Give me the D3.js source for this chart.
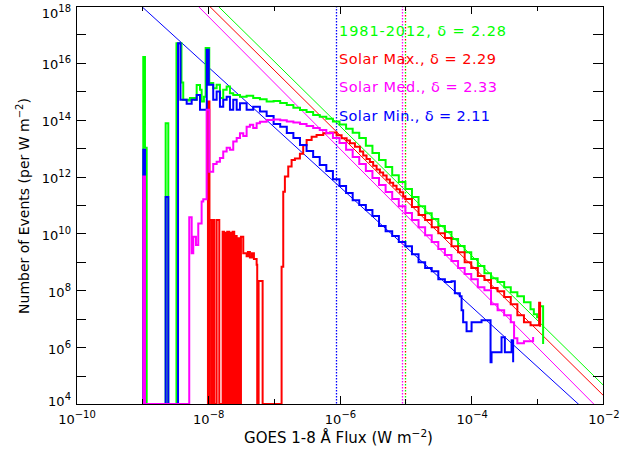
<!DOCTYPE html>
<html><head><meta charset="utf-8">
<script src="https://cdn.jsdelivr.net/npm/d3@7"></script>
<style>
body{margin:0;background:#fff}
svg{display:block}
text{font-family:"DejaVu Sans",sans-serif}
</style>
</head><body>
<svg id="chart" width="631" height="453"></svg>
<script>
// ---------------- DATA (log10 values) ----------------
const seriesNames = ["1981-2012", "Solar Max.", "Solar Med.", "Solar Min."];
const seriesColors = ["#00ff00", "#ff0000", "#ff00ff", "#0000ff"];
const fitDelta = [2.28, 2.29, 2.33, 2.11];
const fitLogAmp = [0.113, -0.267, -0.987, -1.011];   // log10 N at F = 1 W m^-2
const thresholdLogF = [-5.0, -5.0, -5.049, -6.055];  // dotted vertical lines

const xMajorExp = [-10, -8, -6, -4, -2];
const xMinorExp = [-9, -7, -5, -3];
const yMajorExp = [4, 6, 8, 10, 12, 14, 16, 18];
const yMinorExp = [5, 7, 9, 11, 13, 15, 17];

// step histograms: bin left edges (log10 flux) and log10 counts (4 = empty)
const greenLogF = [-8.979,-8.953,-8.927,-8.639,-8.599,-8.475,-8.399,-8.372,-8.296,-8.270,-8.194,-8.168,-8.118,-8.093,-8.058,-8.032,-7.977,-7.917,-7.865,-7.815,-7.765,-7.713,-7.663,-7.613,-7.511,-7.410,-7.310,-7.208,-7.106,
 -7.0,-6.9,-6.8,-6.7,-6.6,-6.5,-6.4,-6.3,-6.2,-6.1,-6.0,-5.9,-5.8,-5.7,-5.6,-5.5,-5.4,-5.3,-5.2,-5.1,-5.0,-4.9,-4.8,-4.7,-4.6,-4.5,-4.4,-4.3,-4.2,-4.1,-4.0,-3.9,-3.8,-3.7,-3.6,-3.5,-3.4,-3.3,-3.2,-3.1,-3.05,-3.0,-2.959,-2.909];
const greenLogN = [16.21,13.01,4,13.88,4,16.69,15.31,14.70,14.68,14.76,14.70,15.22,15.05,14.64,14.81,16.52,15.29,15.11,15.23,14.76,15.05,15.17,14.93,14.87,14.81,14.84,14.76,14.72,14.64,
 14.66,14.59,14.52,14.42,14.34,14.27,14.17,14.10,14.03,13.94,13.83,13.68,13.54,13.36,13.08,12.83,12.58,12.34,12.05,11.81,11.56,11.28,10.96,10.71,10.51,10.26,10.05,9.80,9.56,9.34,9.10,8.85,8.60,8.42,8.29,8.11,7.93,7.79,7.58,7.33,7.16,7.05,7.44,6.11];

const redLogF = [-7.997,-7.974,-7.967,-7.936,-7.929,-7.901,-7.865,-7.825,-7.774,-7.754,-7.739,-7.713,-7.704,-7.674,-7.663,-7.637,-7.622,-7.598,-7.587,-7.561,-7.552,-7.522,-7.496,-7.461,-7.410,-7.390,-7.360,-7.329,-7.299,-7.258,-7.249,-7.228,-7.167,
 -6.879,-6.854,-6.829,-6.778,-6.727,-6.677,-6.601,-6.551,-6.499,-6.423,-6.348,-6.247,-6.146,-6.044,-5.968,-5.892,-5.842,-5.766,-5.690,-5.640,-5.590,-5.539,-5.489,-5.437,-5.387,-5.337,-5.285,-5.235,-5.185,-5.134,-5.083,-5.033,
 -5.0,-4.9,-4.8,-4.7,-4.6,-4.5,-4.4,-4.3,-4.2,-4.1,-4.0,-3.9,-3.8,-3.7,-3.6,-3.5,-3.4,-3.3,-3.2,-3.1,-2.970,-2.955];
const redLogN = [14.64,4,10.47,4,10.47,4,10.47,4,10.06,4,10.02,4,10.06,4,10.02,4,10.06,4,9.91,4,9.83,4,9.88,9.30,9.20,9.35,9.15,9.30,9.10,8.90,4,8.33,4,
 8.83,11.47,12.00,12.35,12.58,12.64,12.80,13.10,13.29,13.40,13.46,13.52,13.55,13.45,13.35,13.27,13.17,13.05,12.88,12.74,12.62,12.51,12.38,12.25,12.14,12.04,11.90,11.78,11.68,11.55,11.45,11.30,
 11.21,10.93,10.65,10.47,10.22,10.01,9.84,9.55,9.34,8.99,8.78,8.50,8.36,8.08,7.97,7.76,7.51,7.12,6.88,6.77,7.56,6.72];

const magLogF = [-8.979,-8.953,-8.281,-8.244,-8.220,-8.179,-8.144,-8.093,-8.068,-8.017,-7.977,-7.917,-7.865,-7.815,-7.765,-7.713,-7.663,-7.613,-7.561,-7.511,-7.461,-7.410,-7.360,-7.310,-7.258,-7.208,-7.106,
 -7.0,-6.9,-6.8,-6.7,-6.6,-6.5,-6.4,-6.3,-6.2,-6.1,-6.0,-5.9,-5.8,-5.7,-5.6,-5.5,-5.4,-5.3,-5.2,-5.1,-5.0,-4.9,-4.8,-4.7,-4.6,-4.5,-4.4,-4.3,-4.2,-4.1,-4.0,-3.9,-3.8,-3.7,-3.6,-3.5,-3.4,-3.35,-3.3,-3.2,-3.1,-3.061];
const magLogN = [12.00,4,10.57,9.30,9.88,9.59,10.35,11.12,11.20,14.35,12.17,12.44,12.52,12.65,12.88,13.01,12.94,13.23,13.36,13.52,13.43,13.75,13.82,13.71,13.88,13.93,13.99,
 14.01,13.98,13.94,13.90,13.85,13.78,13.71,13.64,13.53,13.36,13.18,12.94,12.69,12.44,12.20,11.95,11.70,11.46,11.21,10.96,10.72,10.47,10.22,9.94,9.70,9.45,9.24,9.03,8.78,8.57,8.39,8.11,8.00,7.51,7.30,7.12,6.88,6.31,6.14,6.21,6.21,6.36];

const blueLogF = [-8.979,-8.953,-8.639,-8.599,-8.451,-8.414,-8.320,-8.244,-8.168,-8.118,-8.015,-7.985,-7.917,-7.865,-7.815,-7.765,-7.713,-7.663,-7.613,-7.561,-7.511,-7.410,-7.310,-7.208,-7.106,
 -7.0,-6.9,-6.8,-6.7,-6.6,-6.5,-6.4,-6.3,-6.2,-6.1,-6.0,-5.9,-5.8,-5.7,-5.6,-5.5,-5.4,-5.3,-5.2,-5.1,-5.0,-4.9,-4.8,-4.7,-4.6,-4.5,-4.4,-4.3,
 -4.249,-4.173,-4.147,-4.123,-4.071,-3.995,-3.844,-3.707,-3.692,-3.540,-3.490,-3.388,-3.364];
const blueLogN = [12.94,4,11.28,4,16.69,14.70,14.56,14.70,14.87,14.35,16.46,15.23,14.70,14.99,14.46,14.70,14.81,14.35,14.70,14.35,14.58,14.35,14.46,14.29,14.13,
 13.85,13.75,13.53,13.36,13.11,12.90,12.69,12.41,12.20,11.91,11.67,11.42,11.17,11.00,10.82,10.61,10.26,10.08,9.91,9.70,9.55,9.27,8.99,8.78,8.67,8.39,8.29,8.32,
 7.90,7.79,7.30,6.88,6.56,6.88,6.95,5.47,5.82,6.35,5.82,6.24,5.47];

// drawing order: 1981-2012, Solar Max., Solar Min., Solar Med.
const drawOrder = [0, 1, 3, 2];
const histF = [greenLogF, redLogF, magLogF, blueLogF];
const histN = [greenLogN, redLogN, magLogN, blueLogN];
const FLOOR = 4;

// ---------------- CHART ----------------
const svg = d3.select("#chart");
const L = 76, R = 603, T = 6, B = 404;
const x = d3.scaleLog().domain([1e-10, 1e-2]).range([L, R]);
const y = d3.scaleLog().domain([1e4, 1e18]).range([B, T]);
const p10 = e => Math.pow(10, e);

svg.append("defs").append("clipPath").attr("id", "clip")
  .append("rect").attr("x", L).attr("y", T).attr("width", R - L).attr("height", B - T);

const plot = svg.append("g").attr("clip-path", "url(#clip)");

// fitted power laws
fitDelta.forEach((d, i) => {
  const f0 = -10, f1 = -2;
  plot.append("line")
    .attr("x1", x(p10(f0))).attr("y1", y(p10(fitLogAmp[i] - d * f0)))
    .attr("x2", x(p10(f1))).attr("y2", y(p10(fitLogAmp[i] - d * f1)))
    .attr("stroke", seriesColors[i]).attr("stroke-width", 1);
});

// dotted thresholds
thresholdLogF.forEach((f, i) => {
  const xp = Math.round(x(p10(f))) + 0.5;
  plot.append("line")
    .attr("x1", xp).attr("x2", xp)
    .attr("y1", T).attr("y2", B)
    .attr("stroke", seriesColors[i]).attr("stroke-width", 1.3)
    .attr("stroke-dasharray", i <= 1 ? "1.5,4.5" : "1.5,1.5")
    .attr("stroke-dashoffset", i === 1 ? 3 : 0);
});

// histograms
const line = d3.line().x(d => x(p10(d[0]))).y(d => y(p10(d[1])));
drawOrder.forEach(s => {
  const fs = histF[s], ns = histN[s];
  const n = Math.min(fs.length, ns.length);
  const pts = [[fs[0], FLOOR], [fs[0], ns[0]]];
  for (let i = 1; i < n; i++) {
    pts.push([fs[i], ns[i - 1]]);
    pts.push([fs[i], ns[i]]);
  }
  plot.append("path").attr("d", line(pts))
    .attr("fill", "none").attr("stroke", seriesColors[s])
    .attr("stroke-width", 2).attr("stroke-linejoin", "miter");
});

// axes
function styleAxis(g) {
  g.selectAll("path,line").attr("stroke", "#000").attr("stroke-width", 1).attr("shape-rendering", "crispEdges");
  g.selectAll("text").remove();
}
const xMaj = xMajorExp.map(p10), xMin = xMinorExp.map(p10);
const yMaj = yMajorExp.map(p10), yMin = yMinorExp.map(p10);

svg.append("g").attr("transform", `translate(0,${B})`)
  .call(d3.axisBottom(x).tickValues(xMaj).tickSize(-8).tickSizeOuter(0)).call(styleAxis);
svg.append("g").attr("transform", `translate(0,${B})`)
  .call(d3.axisBottom(x).tickValues(xMin).tickSize(-5).tickSizeOuter(0)).call(styleAxis);
svg.append("g").attr("transform", `translate(0,${T})`)
  .call(d3.axisTop(x).tickValues(xMaj).tickSize(-8).tickSizeOuter(0)).call(styleAxis);
svg.append("g").attr("transform", `translate(0,${T})`)
  .call(d3.axisTop(x).tickValues(xMin).tickSize(-5).tickSizeOuter(0)).call(styleAxis);
svg.append("g").attr("transform", `translate(${L},0)`)
  .call(d3.axisLeft(y).tickValues(yMaj.concat(yMin)).tickSize(-10).tickSizeOuter(0)).call(styleAxis);
svg.append("g").attr("transform", `translate(${R},0)`)
  .call(d3.axisRight(y).tickValues(yMaj.concat(yMin)).tickSize(-10).tickSizeOuter(0)).call(styleAxis);

// tick labels
xMajorExp.forEach(e => {
  const t = svg.append("text").attr("x", x(p10(e)) + 1).attr("y", 423.5)
    .attr("text-anchor", "middle").attr("font-size", 13).attr("fill", "#000");
  t.append("tspan").text("10");
  t.append("tspan").attr("dy", -6).attr("font-size", 10).text("\u2212" + Math.abs(e));
});
yMajorExp.forEach(e => {
  const off = e === 18 ? 12 : (e === 4 ? 1.5 : 6.5);
  const t = svg.append("text").attr("x", 71).attr("y", y(p10(e)) + off)
    .attr("text-anchor", "end").attr("font-size", 13).attr("fill", "#000");
  t.append("tspan").text("10");
  t.append("tspan").attr("dy", -6).attr("font-size", 10).text(String(e));
});

// axis titles
const xt = svg.append("text").attr("x", 338.5).attr("y", 443).attr("text-anchor", "middle")
  .attr("font-size", 15).attr("fill", "#000");
xt.append("tspan").text("GOES 1-8 \u00c5 Flux (W m");
xt.append("tspan").attr("dy", -6).attr("font-size", 10.5).text("\u22122");
xt.append("tspan").attr("dy", 6).text(")");

const yt = svg.append("text").attr("transform", "translate(28.5,206) rotate(-90)")
  .attr("text-anchor", "middle").attr("font-size", 14).attr("fill", "#000");
yt.append("tspan").text("Number of Events (per W m");
yt.append("tspan").attr("dy", -6).attr("font-size", 10).text("\u22122");
yt.append("tspan").attr("dy", 6).text(")");

// legend
const legendWidths = [167, 157, 158, 151];
seriesNames.forEach((nm, i) => {
  svg.append("text").attr("x", 339).attr("y", 36 + i * 28.2)
    .attr("font-size", 14.5).attr("fill", seriesColors[i])
    .attr("textLength", legendWidths[i]).attr("lengthAdjust", "spacing")
    .text(`${nm}, \u03b4 = ${fitDelta[i].toFixed(2)}`);
});
</script>
</body></html>
